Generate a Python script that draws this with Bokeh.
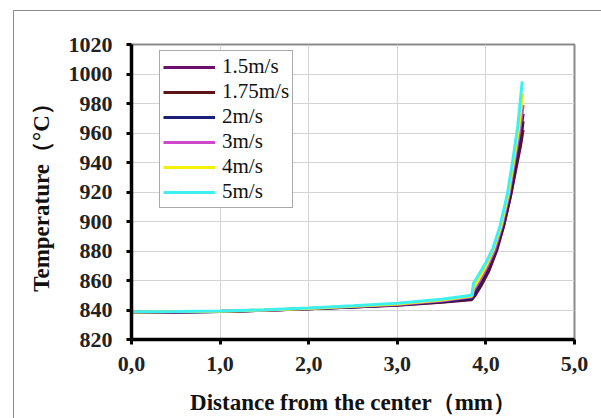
from bokeh.plotting import figure
from bokeh.models import FixedTicker, Legend, LegendItem
from bokeh.embed import file_html
from bokeh.resources import INLINE

# ---- data ----
series_names = ["1.5m/s", "1.75m/s", "2m/s", "3m/s", "4m/s", "5m/s"]
series_colors = ["#6b0f6b", "#5c1414", "#1c1f78", "#cc48cc", "#f2f200", "#3ef0f0"]

x_base = [0.0, 0.5, 1.0, 1.5, 2.0, 2.5, 3.0, 3.5]

x_15 = x_base + [3.84, 3.88, 3.95, 4.03, 4.12, 4.20, 4.28, 4.34, 4.39, 4.42]
t_15 = [838.5, 838.7, 839.0, 839.8, 840.8, 842.0, 843.3, 845.3,
        847.0, 850.0, 857.0, 866.0, 880.0, 897.0, 918.0, 936.0, 951.0, 962.0]

x_175 = x_base + [3.84, 3.87, 3.95, 4.03, 4.12, 4.20, 4.28, 4.34, 4.39, 4.42]
t_175 = [838.5, 838.7, 839.0, 839.8, 840.8, 842.1, 843.4, 845.5,
         847.5, 850.0, 858.0, 867.0, 881.0, 897.0, 918.0, 938.0, 953.0, 968.0]

x_2 = x_base + [3.84, 3.87, 3.94, 4.02, 4.11, 4.19, 4.27, 4.33, 4.38, 4.42]
t_2 = [838.5, 838.7, 839.0, 839.8, 840.8, 842.1, 843.5, 845.7,
       848.0, 851.0, 859.0, 868.0, 881.0, 897.0, 918.0, 939.0, 956.0, 973.0]

x_3 = x_base + [3.84, 3.86, 3.94, 4.02, 4.10, 4.18, 4.26, 4.32, 4.38, 4.42]
t_3 = [838.6, 838.8, 839.1, 839.9, 841.0, 842.3, 843.8, 846.2,
       849.0, 853.0, 861.0, 870.0, 881.0, 897.0, 918.0, 940.0, 961.0, 979.0]

x_4 = x_base + [3.84, 3.86, 3.93, 4.01, 4.09, 4.17, 4.25, 4.31, 4.37, 4.415]
t_4 = [838.7, 838.9, 839.2, 840.0, 841.1, 842.5, 844.1, 846.7,
       849.5, 855.0, 862.0, 871.0, 882.0, 897.0, 918.0, 940.0, 963.0, 987.0]

x_5 = x_base + [3.84, 3.86, 3.92, 4.00, 4.08, 4.16, 4.24, 4.30, 4.36, 4.41]
t_5 = [838.8, 839.0, 839.3, 840.1, 841.3, 842.8, 844.5, 847.3,
       850.0, 858.0, 864.0, 872.0, 882.0, 897.0, 918.0, 940.0, 965.0, 995.0]

series_x = [x_15, x_175, x_2, x_3, x_4, x_5]
series_t = [t_15, t_175, t_2, t_3, t_4, t_5]

x_ticks = [0, 1, 2, 3, 4, 5]
x_tick_labels = ["0,0", "1,0", "2,0", "3,0", "4,0", "5,0"]
y_ticks = [820, 840, 860, 880, 900, 920, 940, 960, 980, 1000, 1020]

SERIF = "Liberation Serif"

p = figure(width=588, height=408, x_range=(0, 5), y_range=(820, 1020),
           output_backend="svg", toolbar_location=None,
           min_border_left=117, min_border_right=28,
           min_border_top=33, min_border_bottom=80)
p.margin = (10, 0, 0, 13)
p.styles = {"border-left": "1.5px solid #8a8a8a", "border-top": "1.5px solid #8a8a8a"}

p.outline_line_color = "#8a8a8a"
p.outline_line_width = 2
p.background_fill_color = "white"
p.border_fill_color = "white"

p.xgrid.grid_line_color = "#d4d4d4"
p.ygrid.grid_line_color = "#d4d4d4"
p.xgrid.grid_line_width = 1
p.ygrid.grid_line_width = 1

p.xaxis.ticker = FixedTicker(ticks=x_ticks)
p.yaxis.ticker = FixedTicker(ticks=y_ticks)
p.xaxis.major_label_overrides = {t: l for t, l in zip(x_ticks, x_tick_labels)}

for ax in (p.xaxis, p.yaxis):
    ax.axis_line_color = "black"
    ax.axis_line_width = 3.5
    ax.major_tick_line_color = "black"
    ax.major_tick_line_width = 3
    ax.major_tick_out = 5
    ax.major_tick_in = 0
    ax.minor_tick_line_color = None
    ax.major_label_text_font = SERIF
    ax.major_label_text_font_style = "bold"
    ax.major_label_text_font_size = "22px"
    ax.major_label_text_color = "#222222"
    ax.axis_label_text_font = SERIF
    ax.axis_label_text_font_style = "bold"
    ax.axis_label_text_font_size = "23px"
    ax.axis_label_text_color = "#111111"

p.xaxis.axis_label = "Distance from the center（mm）"
p.yaxis.axis_label = "Temperature（°C）"
p.xaxis.major_label_standoff = 12
p.yaxis.major_label_standoff = 14
p.xaxis.axis_label_standoff = 16
p.yaxis.axis_label_standoff = 12

items = []
for name, color, xs, ts in zip(series_names, series_colors, series_x, series_t):
    r = p.line(xs, ts, line_color=color, line_width=3)
    items.append(LegendItem(label=name, renderers=[r]))

legend = Legend(items=items, location=(28, 131))
legend.label_text_font = SERIF
legend.label_text_font_size = "21px"
legend.label_text_color = "#111111"
legend.glyph_width = 52
legend.glyph_height = 20
legend.label_height = 20
legend.spacing = 0
legend.padding = 3
legend.margin = 0
legend.label_standoff = 7
legend.border_line_color = "#555555"
legend.border_line_width = 1
legend.background_fill_color = "white"
legend.background_fill_alpha = 1
p.add_layout(legend)

open("out.html", "w").write(file_html(p, INLINE))
